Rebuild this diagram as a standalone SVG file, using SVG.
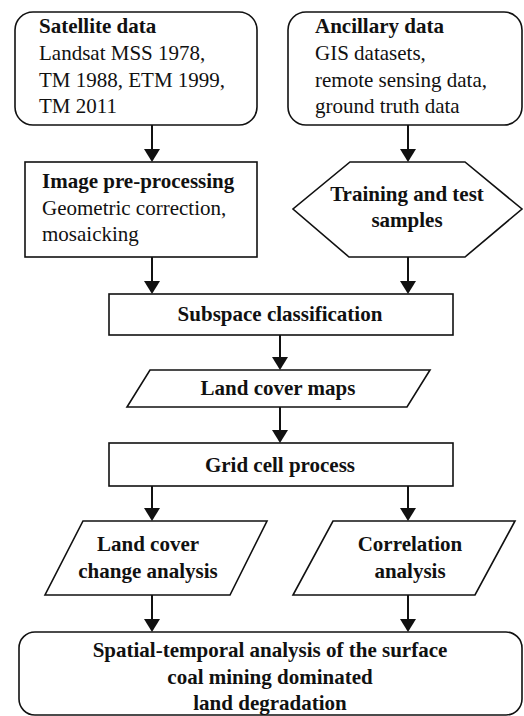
<svg xmlns="http://www.w3.org/2000/svg" width="524" height="716" viewBox="0 0 524 716">
<defs>
<style>
.box{fill:#fff;stroke:#111;stroke-width:1.6}
.t{font-family:"Liberation Serif","Times New Roman",serif;font-size:21px;fill:#111}
.b{font-weight:bold}
.c{text-anchor:middle}
.conn line{stroke:#111;stroke-width:2}
</style>
<marker id="ah" markerUnits="userSpaceOnUse" markerWidth="13" markerHeight="16" refX="9" refY="8" orient="auto" viewBox="0 0 13 16">
<path d="M0,0 L13,8 L0,16 z" fill="#111"/>
</marker>
</defs>
<rect width="524" height="716" fill="#fff"/>

<g id="satellite">
<rect class="box" x="15" y="12" width="242" height="113" rx="18"/>
<text class="t b" x="39" y="33">Satellite data</text>
<text class="t" x="39" y="60">Landsat MSS 1978,</text>
<text class="t" x="39" y="87">TM 1988, ETM 1999,</text>
<text class="t" x="39" y="113">TM 2011</text>
</g>

<g id="ancillary">
<rect class="box" x="288" y="12" width="234" height="113" rx="18"/>
<text class="t b" x="315" y="33">Ancillary data</text>
<text class="t" x="315" y="60">GIS datasets,</text>
<text class="t" x="315" y="87">remote sensing data,</text>
<text class="t" x="315" y="113">ground truth data</text>
</g>

<g id="preprocessing">
<rect class="box" x="25" y="162" width="232" height="95"/>
<text class="t b" x="42" y="188">Image pre-processing</text>
<text class="t" x="42" y="215">Geometric correction,</text>
<text class="t" x="42" y="241">mosaicking</text>
</g>

<g id="samples">
<polygon class="box" points="350,162 465,162 522,209 465,257 349,257 293,209"/>
<text class="t b c" x="407" y="201">Training and test</text>
<text class="t b c" x="407" y="227">samples</text>
</g>

<g id="subspace">
<rect class="box" x="109" y="294" width="344" height="41"/>
<text class="t b c" x="280" y="321">Subspace classification</text>
</g>

<g id="landcovermaps">
<polygon class="box" points="150,370 430,370 407,407 127,407"/>
<text class="t b c" x="278" y="395">Land cover maps</text>
</g>

<g id="gridcell">
<rect class="box" x="109" y="443" width="344" height="43"/>
<text class="t b c" x="280" y="472">Grid cell process</text>
</g>

<g id="changeanalysis">
<polygon class="box" points="83,521 267,521 230,595 45,595"/>
<text class="t b c" x="148" y="551">Land cover</text>
<text class="t b c" x="148" y="578">change analysis</text>
</g>

<g id="correlation">
<polygon class="box" points="333,521 515,521 475,595 293,595"/>
<text class="t b c" x="410" y="551">Correlation</text>
<text class="t b c" x="410" y="578">analysis</text>
</g>

<g id="final">
<rect class="box" x="19" y="632" width="503" height="83" rx="16"/>
<text class="t b c" x="270" y="657">Spatial-temporal analysis of the surface</text>
<text class="t b c" x="270" y="684">coal mining dominated</text>
<text class="t b c" x="270" y="710">land degradation</text>
</g>

<g id="connectors" class="conn">
<line x1="152" y1="125" x2="152" y2="158" marker-end="url(#ah)"/>
<line x1="408" y1="125" x2="408" y2="158" marker-end="url(#ah)"/>
<line x1="152" y1="257" x2="152" y2="290" marker-end="url(#ah)"/>
<line x1="408" y1="257" x2="408" y2="290" marker-end="url(#ah)"/>
<line x1="280" y1="335" x2="280" y2="366" marker-end="url(#ah)"/>
<line x1="280" y1="407" x2="280" y2="439" marker-end="url(#ah)"/>
<line x1="152" y1="486" x2="152" y2="517" marker-end="url(#ah)"/>
<line x1="408" y1="486" x2="408" y2="517" marker-end="url(#ah)"/>
<line x1="152" y1="595" x2="152" y2="628" marker-end="url(#ah)"/>
<line x1="408" y1="595" x2="408" y2="628" marker-end="url(#ah)"/>
</g>
</svg>
